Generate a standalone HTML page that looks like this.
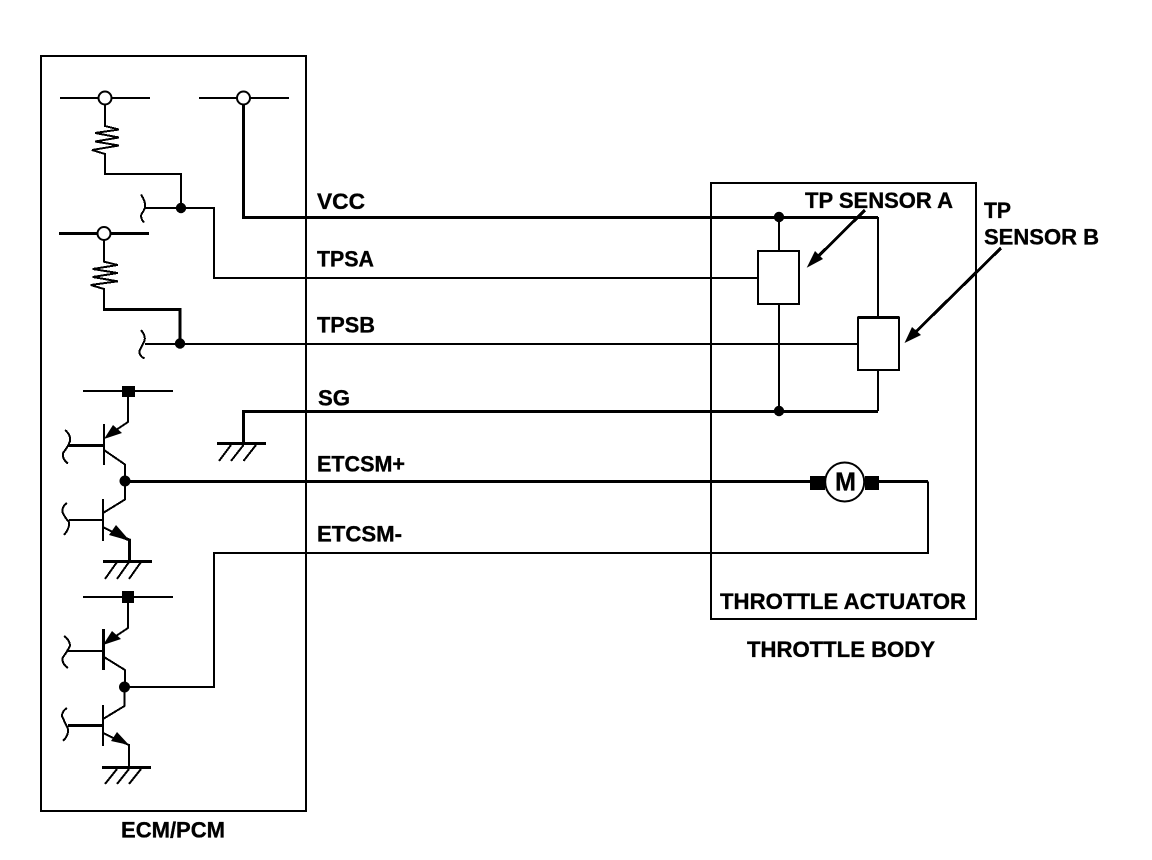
<!DOCTYPE html>
<html>
<head>
<meta charset="utf-8">
<style>
html,body{margin:0;padding:0;background:#fff;}
svg{display:block;}
text{font-family:"Liberation Sans",Arial,sans-serif;font-weight:bold;font-size:22px;fill:#000;stroke:#000;stroke-width:0.35px;}
</style>
</head>
<body>
<svg width="1152" height="860" viewBox="0 0 1152 860" xmlns="http://www.w3.org/2000/svg">
<rect width="1152" height="860" fill="#fff"/>
<g fill="none" stroke="#000" stroke-width="2" stroke-linejoin="miter" shape-rendering="crispEdges">
  <!-- boxes -->
  <rect x="41" y="56" width="265" height="755"/>
  <rect x="711" y="183" width="265" height="436"/>

  <!-- supply rails -->
  <path d="M60 98H150M199 98H289"/>
  <path d="M59 233.5H149" stroke-width="3"/>

  <!-- resistor 1 and TPSA -->
  <path d="M105 104V126L119 129.5L95 133L119 137.5L95 141.5L119 145.5L92 150L105 154V174H181V208"/>
  <path d="M145 208H214V278H758"/>
  <!-- resistor 2 and TPSB -->
  <path d="M104 240V261.7L117.7 265L92.7 269L117.7 273L92.7 277L117.7 281.3L90.7 285L104 289V309"/>
  <path d="M103 309.5H180V343" stroke-width="3"/>
  <path d="M145 344H858"/>

  <!-- VCC -->
  <path d="M243.5 104V217.5H878" stroke-width="3"/>
  <path d="M878 217V317"/>
  <!-- SG -->
  <path d="M243.5 443V411.5H878" stroke-width="3"/>
  <path d="M878 411V370"/>
  <path d="M217 443.5H266" stroke-width="3"/>
  <path d="M231 445L219 461M243.5 445L231 461M256 445L243.5 461"/>
  <!-- sensors vertical -->
  <path d="M779 217V251M779 304V411"/>
  <rect x="758" y="251" width="41" height="53"/>
  <rect x="858" y="317.5" width="41" height="52.5"/>
  <path d="M858 317.5H899" stroke-width="3"/>

  <!-- pointer arrows -->
  <path d="M865 210L812 262.5" stroke-width="3"/>
  <path d="M1001 248L909 338.5" stroke-width="3"/>

  <!-- braces -->
  <path d="M141 194.5Q146 202 145 207.5Q144 211 141.5 214Q140 218 144 222.5"/>
  <path d="M141 330Q146 336 144.5 341Q142 346 139.5 351Q139 356 144.5 358.5"/>
  <path d="M65 430Q71 435 70 441Q68 447 63 453Q62 459 68 463.5"/>
  <path d="M67 503Q62 506 62.5 512Q65 518 69 522Q70 528 64 535"/>
  <path d="M64 636Q70 640 70 646Q67 652 62.5 658Q62 664 68 668"/>
  <path d="M67 708Q62 711 62 716Q65 723 68 729Q69 735 63 741"/>

  <!-- transistor 1 upper -->
  <path d="M83 391H173"/>
  <path d="M128 397V422L110 434"/>
  <path d="M104 424V465"/>
  <path d="M68 445.5H104" stroke-width="3"/>
  <path d="M104 450L125 464.5V481"/>
  <!-- transistor 1 lower -->
  <path d="M125 481V499.5L103 513"/>
  <path d="M103 499V541"/>
  <path d="M69 520H103"/>
  <path d="M103 527L122 537"/>
  <path d="M122 537L129.5 540V561" stroke-width="3"/>
  <path d="M103 561.5H152" stroke-width="3"/>
  <path d="M117 562L105 579M129 562L117 579M141 562L129 579"/>

  <!-- transistor 2 upper -->
  <path d="M83 597H173"/>
  <path d="M128 603V628L110 640"/>
  <path d="M103.5 629V670" stroke-width="3"/>
  <path d="M68 651H103.5"/>
  <path d="M104 657L125 670V687"/>
  <!-- transistor 2 lower -->
  <path d="M124.5 687V706L103 719"/>
  <path d="M103 705V746"/>
  <path d="M68 725.5H103" stroke-width="3"/>
  <path d="M103 733L122 742"/>
  <path d="M122 742L129 745V767"/>
  <path d="M102 767.5H151" stroke-width="3"/>
  <path d="M117 769L105 784M129 769L117 784M141 769L129 784"/>

  <!-- ETCSM+ -->
  <path d="M125 481.5H811" stroke-width="3"/>
  <path d="M878 481.5H928" stroke-width="3"/>
  <path d="M928 481.5V553H214V687H125"/>
</g>

<g fill="#fff" stroke="#000" stroke-width="2">
  <!-- open terminals -->
  <circle cx="105" cy="98" r="6.5"/>
  <circle cx="243.5" cy="98" r="6.5"/>
  <circle cx="104" cy="233.5" r="6.5"/>
  <!-- motor -->
  <circle cx="844.7" cy="482" r="19.5"/>
</g>

<g fill="#000" stroke="none">
  <!-- junction dots -->
  <circle cx="181" cy="208" r="5.2"/>
  <circle cx="180" cy="343.5" r="5.2"/>
  <circle cx="125" cy="481" r="5.5"/>
  <circle cx="124.5" cy="687" r="5.5"/>
  <circle cx="779" cy="217" r="5.2"/>
  <circle cx="779" cy="411" r="5.2"/>
  <!-- squares -->
  <rect x="122" y="386" width="13" height="11"/>
  <rect x="122" y="591" width="12" height="12"/>
  <rect x="810" y="476" width="15" height="14"/>
  <rect x="865" y="476" width="14" height="14"/>
  <!-- transistor arrowheads -->
  <path d="M104 439L113 425L122 433Z"/>
  <path d="M130 541L109 535L116 525Z"/>
  <path d="M103 645L112 631L121 639Z"/>
  <path d="M129 745L111 741L117 732Z"/>
  <!-- pointer arrowheads -->
  <path d="M806.7 267.7L815 251L823 259Z"/>
  <path d="M904.5 343L912 327L921 335Z"/>
</g>

<text x="317" y="209" textLength="48" lengthAdjust="spacingAndGlyphs">VCC</text>
<text x="317" y="266.7" textLength="57" lengthAdjust="spacingAndGlyphs">TPSA</text>
<text x="317" y="332.7" textLength="58" lengthAdjust="spacingAndGlyphs">TPSB</text>
<text x="318" y="405.7" textLength="32" lengthAdjust="spacingAndGlyphs">SG</text>
<text x="317" y="471.7" textLength="88" lengthAdjust="spacingAndGlyphs">ETCSM+</text>
<text x="317" y="541.7" textLength="85" lengthAdjust="spacingAndGlyphs">ETCSM-</text>
<text x="805" y="208" textLength="148" lengthAdjust="spacingAndGlyphs">TP SENSOR A</text>
<text x="984" y="218" textLength="27" lengthAdjust="spacingAndGlyphs">TP</text>
<text x="984" y="244.3" textLength="115" lengthAdjust="spacingAndGlyphs">SENSOR B</text>
<text x="720" y="609" textLength="246" lengthAdjust="spacingAndGlyphs">THROTTLE ACTUATOR</text>
<text x="747" y="657" textLength="188" lengthAdjust="spacingAndGlyphs">THROTTLE BODY</text>
<text x="121" y="837.7" textLength="104" lengthAdjust="spacingAndGlyphs">ECM/PCM</text>
<text x="835" y="490.5" textLength="21" lengthAdjust="spacingAndGlyphs" style="font-size:26px">M</text>
</svg>
</body>
</html>
